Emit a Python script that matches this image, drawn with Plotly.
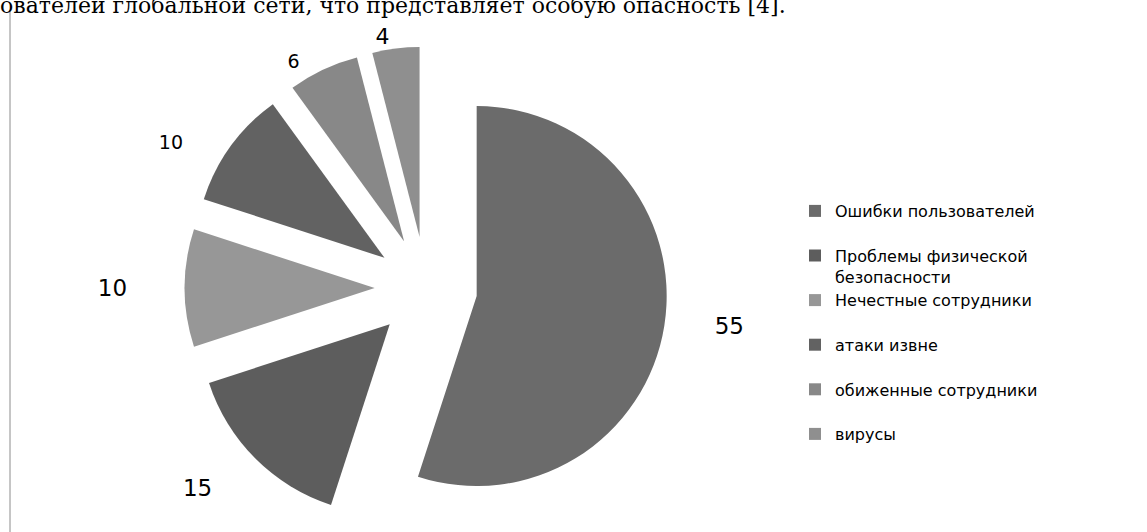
import plotly.graph_objects as go

categories = [
    "Ошибки пользователей",
    "Проблемы физической безопасности",
    "Нечестные сотрудники",
    "атаки извне",
    "обиженные сотрудники",
    "вирусы",
]
values = [55, 15, 10, 10, 6, 4]
colors = ["#6b6b6b", "#5d5d5d", "#979797", "#626262", "#888888", "#8f8f8f"]
label_sizes = [23, 23, 23, 19, 19, 22]

W, H = 1147, 532
NB = "\u00a0"
# outside value labels, padded so they sit a bit further from the slices
label_templates = [
    NB * 6 + "%{value}",
    NB + "<br>%{value}" + NB * 4,
    "%{value}" + NB * 7,
    "%{value}" + NB * 7,
    "%{value}" + NB * 3,
    "%{value}",
]

# legend labels: two text lines per entry (the long one wraps)
legend_labels = []
for c in categories:
    if c == "Проблемы физической безопасности":
        legend_labels.append("Проблемы физической<br>безопасности")
    else:
        legend_labels.append(c + "<br> ")

cx, cy, r, pull = 426, 288, 190, 0.27
half = r * (1 + pull)

fig = go.Figure(
    go.Pie(
        labels=legend_labels,
        values=values,
        sort=False,
        direction="clockwise",
        rotation=0,
        pull=[pull] * len(values),
        marker=dict(colors=colors, line=dict(width=0)),
        texttemplate=label_templates,
        textposition="outside",
        textfont=dict(family="DejaVu Sans", size=label_sizes, color="#000000"),
        domain=dict(
            x=[(cx - half) / W, (cx + half) / W],
            y=[1 - (cy + half) / H, 1 - (cy - half) / H],
        ),
        hovertext=categories,
        hoverinfo="text+value",
    )
)

fig.update_layout(
    width=W,
    height=H,
    margin=dict(l=0, r=0, t=0, b=0, autoexpand=False),
    paper_bgcolor="white",
    plot_bgcolor="white",
    showlegend=True,
    title=dict(
        text="ователей глобальной сети, что представляет особую опасность [4].",
        x=0,
        xref="container",
        xanchor="left",
        y=1 - 5 / H,
        yref="container",
        yanchor="middle",
        font=dict(family="DejaVu Serif", size=22, color="#000000"),
        automargin=False,
    ),
    legend=dict(
        x=795 / W,
        y=1 - 194 / H,
        xanchor="left",
        yanchor="top",
        valign="top",
        font=dict(family="DejaVu Sans", size=16, color="#000000"),
        bgcolor="rgba(0,0,0,0)",
        tracegroupgap=0,
    ),
    shapes=[
        dict(
            type="line",
            xref="paper",
            yref="paper",
            x0=10 / W,
            x1=10 / W,
            y0=0,
            y1=1 - 10 / H,
            line=dict(color="#8c8c8c", width=1),
        )
    ],
)

fig.write_html(
    "out.html",
    config={"displayModeBar": False},
    post_script="document.body.style.margin='0';",
)
